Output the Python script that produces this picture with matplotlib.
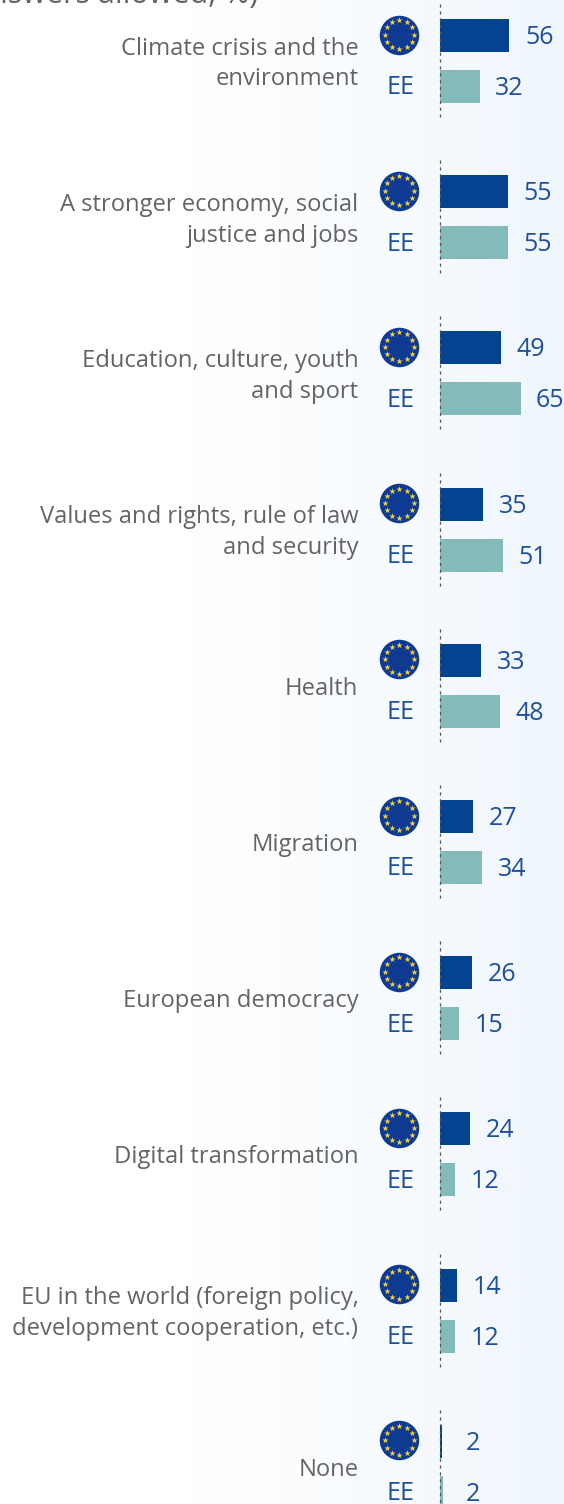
import numpy as np
import matplotlib
matplotlib.use("Agg")
import matplotlib.pyplot as plt
from matplotlib.colors import LinearSegmentedColormap
from matplotlib.transforms import ScaledTranslation

categories = ["Climate crisis and the\nenvironment", "A stronger economy, social\njustice and jobs",
              "Education, culture, youth\nand sport", "Values and rights, rule of law\nand security",
              "Health", "Migration", "European democracy", "Digital transformation",
              "EU in the world (foreign policy,\ndevelopment cooperation, etc.)", "None"]
eu_values = [56, 55, 49, 35, 33, 27, 26, 24, 14, 2]
ee_values = [32, 55, 65, 51, 48, 34, 15, 12, 12, 2]
country = "EE"
title_tail = "(multiple answers allowed, %)"

W, H, DPI = 564, 1504, 100
PX_PER_UNIT = 1.235
ZERO_PX = 440.0
ROW_PX = 156.2
FIRST_MID_PX = 61.0
FONT = ["Open Sans", "DejaVu Sans"]
GREY, BLUE, NAVY, TEAL = "#636466", "#1f4e9b", "#03438f", "#85babb"

fig = plt.figure(figsize=(W / DPI, H / DPI), dpi=DPI)
bg = fig.add_axes([0, 0, 1, 1], zorder=-1)
cmap = LinearSegmentedColormap.from_list("bg", ["#ffffff", "#ffffff", "#f8fbfe", "#eff6fd"], N=256)
bg.imshow(np.linspace(0, 1, 256)[None, :], cmap=cmap, aspect="auto")
bg.axis("off")

ax = fig.add_axes([0, 0, 1, 1])
ax.set_xlim(-ZERO_PX / PX_PER_UNIT, (W - ZERO_PX) / PX_PER_UNIT)
ax.set_ylim((H - FIRST_MID_PX) / ROW_PX, -FIRST_MID_PX / ROW_PX)
ax.axis("off")

rows = np.arange(len(categories))
off = 25.5 / ROW_PX
bar_h = 33 / ROW_PX
ax.barh(rows - off, eu_values, height=bar_h, color=NAVY, zorder=2)
ax.barh(rows + off, ee_values, height=bar_h, left=0.2, color=TEAL, zorder=2)
ax.vlines(np.zeros(len(rows)), rows - 57 / ROW_PX, rows + 56 / ROW_PX, color="#555555",
          lw=0.9, linestyles=(0, (2.5, 3)), zorder=3)


def px(dx, dy):
    return ScaledTranslation(dx / DPI, -dy / DPI, fig.dpi_scale_trans)


for r, cat, eu, ee in zip(rows, categories, eu_values, ee_values):
    ax.text(-81.5 / PX_PER_UNIT, r, cat, transform=ax.transData + px(0, 3), ha="right", va="center",
            ma="right", color=GREY, fontsize=17.15, family=FONT, linespacing=1.37)
    ax.text(eu, r - off, str(eu), transform=ax.transData + px(30, 2), va="center", ha="center",
            color=BLUE, fontsize=18, family=FONT)
    ax.text(ee, r + off, str(ee), transform=ax.transData + px(30, 2), va="center", ha="center",
            color=BLUE, fontsize=18, family=FONT)
    ax.text(-39 / PX_PER_UNIT, r + off, country, transform=ax.transData + px(0, 1.5), va="center", ha="center",
            color=BLUE, fontsize=18, family=FONT)
    tr = ax.transData + px(-40.5, 0)
    y0 = r - off - 1 / ROW_PX
    ax.scatter([0], [y0], s=(39.5 * 0.72) ** 2, color="#0f3a92", transform=tr, zorder=3, linewidths=0)
    ang = np.deg2rad(np.arange(0, 360, 30))
    sx = 14.5 * np.cos(ang) / PX_PER_UNIT
    sy = y0 + 14.5 * np.sin(ang) / ROW_PX
    ax.scatter(sx, sy, marker="*", s=22, color="#f4d23c", transform=tr, zorder=4, linewidths=0)

ax.text((258 - ZERO_PX) / PX_PER_UNIT, (3 - FIRST_MID_PX) / ROW_PX, title_tail, va="baseline", ha="right",
        color=GREY, fontsize=22, family=FONT, clip_on=False)

fig.savefig("out.png", dpi=DPI)
